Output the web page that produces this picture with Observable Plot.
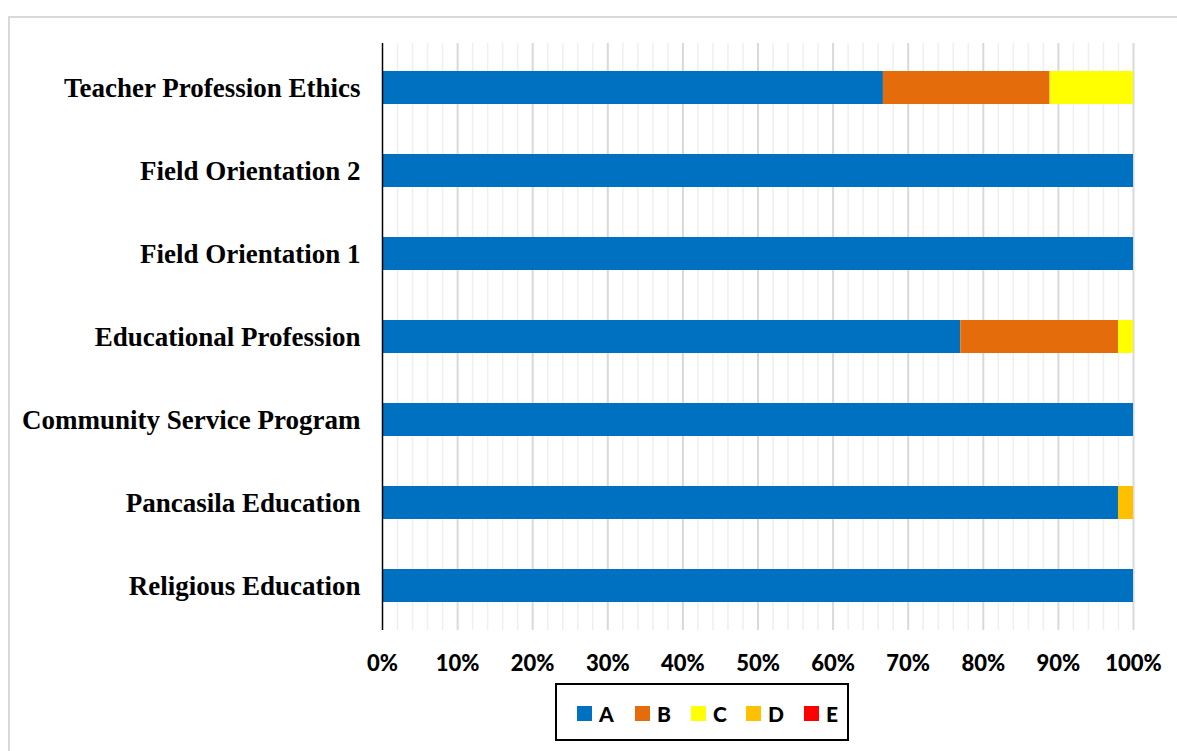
<!DOCTYPE html>
<html>
<head>
<meta charset="utf-8">
<script src="https://cdn.jsdelivr.net/npm/d3@7"></script>
<script src="https://cdn.jsdelivr.net/npm/@observablehq/plot@0.6"></script>
<style>
  html, body { margin: 0; padding: 0; background: #fff; width: 1177px; height: 751px; overflow: hidden; }
  #frame { position: absolute; left: 8px; top: 16px; width: 1300px; height: 900px; border-left: 2px solid #d9d9d9; border-top: 2px solid #d9d9d9; }
  #chart { position: absolute; left: 0; top: 0; }
  #legend { position: absolute; left: 555px; top: 683px; width: 290px; height: 54px; border: 2px solid #000; box-sizing: content-box;
            font-family: Lato, "Open Sans", sans-serif; font-weight: 900; font-size: 21px; color: #000; }
  .item { display: flex; align-items: center; position: absolute; top: 16px; }
  .sw { width: 15px; height: 15px; margin-right: 7px; }
</style>
</head>
<body>
<div id="frame"></div>
<div id="chart"></div>
<div id="legend"></div>
<script>
const categories = ["Teacher Profession Ethics", "Field Orientation 2", "Field Orientation 1", "Educational Profession", "Community Service Program", "Pancasila Education", "Religious Education"];
const seriesNames = ["A", "B", "C", "D", "E"];
const colors = ["#0070C0", "#E46C0A", "#FFFF00", "#FFC000", "#FF0000"];
const valuesA = [66.7, 100, 100, 77, 100, 98, 100];
const valuesB = [22.2, 0, 0, 21, 0, 0, 0];
const valuesC = [11.1, 0, 0, 2, 0, 0, 0];
const valuesD = [0, 0, 0, 0, 0, 2, 0];
const valuesE = [0, 0, 0, 0, 0, 0, 0];
const xTicks = [0, 10, 20, 30, 40, 50, 60, 70, 80, 90, 100];
const minorTicks = [2,4,6,8,12,14,16,18,22,24,26,28,32,34,36,38,42,44,46,48,52,54,56,58,62,64,66,68,72,74,76,78,82,84,86,88,92,94,96,98];

const allValues = [valuesA, valuesB, valuesC, valuesD, valuesE];
const data = [];
seriesNames.forEach((s, si) => categories.forEach((c, ci) => data.push({category: c, series: s, value: allValues[si][ci]})));

const chart = Plot.plot({
  width: 1177,
  height: 670,
  marginLeft: 382,
  marginRight: 44,
  marginTop: 43,
  marginBottom: 40,
  style: {background: "transparent", overflow: "visible"},
  x: {domain: [0, 100], ticks: xTicks, tickFormat: d => d + "%", label: null},
  y: {domain: categories, paddingInner: 0.6, paddingOuter: 0.3, label: null},
  color: {domain: seriesNames, range: colors},
  marks: [
    Plot.ruleX(minorTicks, {stroke: "#efefef", strokeWidth: 1.5}),
    Plot.ruleX(xTicks.slice(1), {stroke: "#d9d9d9", strokeWidth: 2}),
    Plot.barX(data, Plot.stackX({x: "value", y: "category", fill: "series", order: seriesNames})),
    Plot.axisX({ticks: xTicks, tickFormat: d => d + "%", tickSize: 0, tickPadding: 25, fontFamily: "Lato, 'Open Sans', sans-serif", fontWeight: 900, fontSize: 22, fill: "#000", label: null}),
    Plot.axisY({tickSize: 0, tickPadding: 22, fontFamily: "'Liberation Serif', 'Times New Roman', serif", fontWeight: "bold", fontSize: 27, fill: "#000", label: null}),
    Plot.ruleX([0], {stroke: "#000", strokeWidth: 1.5}),
    Plot.ruleY([0], {stroke: "#000", strokeWidth: 1.5})
  ]
});
document.getElementById("chart").appendChild(chart);

const legend = document.getElementById("legend");
const lefts = [20, 78, 134, 189, 247];
seriesNames.forEach((s, i) => {
  const it = document.createElement("div");
  it.className = "item";
  it.style.left = lefts[i] + "px";
  it.innerHTML = `<span class="sw" style="background:${colors[i]}"></span><span>${s}</span>`;
  legend.appendChild(it);
});
</script>
</body>
</html>
